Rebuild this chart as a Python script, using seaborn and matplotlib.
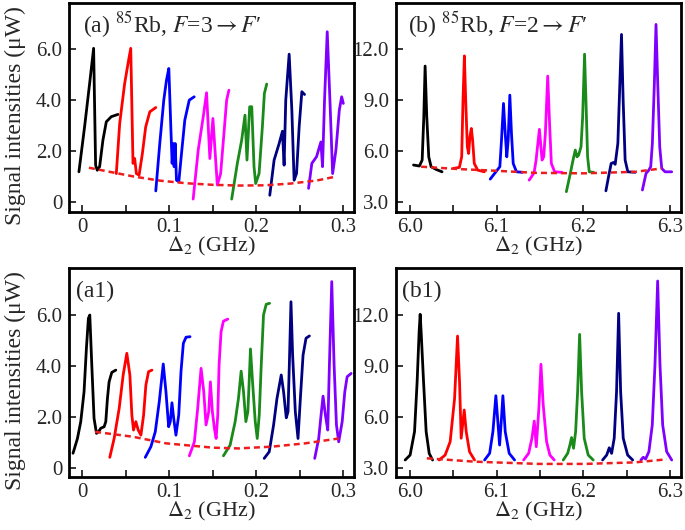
import pandas as pd
import seaborn as sns
import matplotlib.pyplot as plt
from matplotlib.ticker import MultipleLocator, FixedLocator, FixedFormatter

# ---- panel (a): 85Rb F=3 -> F' ----
a_blk_x = [-0.0038, 0.0027, 0.0085, 0.0131, 0.0154, 0.0173, 0.0200, 0.0238, 0.0277, 0.0334, 0.0411]
a_blk_y = [1.19, 2.95, 4.65, 6.03, 1.45, 1.25, 1.39, 2.43, 3.15, 3.35, 3.44]
a_red_x = [0.0392, 0.0431, 0.0488, 0.0527, 0.0558, 0.0584, 0.0603, 0.0623, 0.0654, 0.0692, 0.0730, 0.0777, 0.0846]
a_red_y = [1.12, 3.09, 4.65, 5.44, 6.03, 1.52, 1.71, 1.12, 1.06, 1.91, 2.95, 3.54, 3.71]
a_blu_x = [0.0846, 0.0892, 0.0938, 0.0969, 0.0996, 0.1019, 0.1034, 0.1046, 0.1057, 0.1069, 0.1084, 0.1111, 0.1142, 0.1180, 0.1231, 0.1288]
a_blu_y = [0.44, 2.30, 4.00, 4.78, 5.24, 2.95, 1.52, 2.30, 1.39, 2.30, 0.86, 0.80, 1.91, 3.22, 4.00, 4.13]
a_mag_x = [0.1276, 0.1334, 0.1392, 0.1430, 0.1468, 0.1503, 0.1554, 0.1592, 0.1630, 0.1661, 0.1687]
a_mag_y = [0.12, 2.04, 3.35, 4.29, 1.71, 3.28, 0.67, 1.12, 2.69, 4.00, 4.39]
a_grn_x = [0.1719, 0.1784, 0.1834, 0.1872, 0.1895, 0.1926, 0.1950, 0.1976, 0.1995, 0.2034, 0.2072, 0.2095, 0.2122]
a_grn_y = [0.12, 1.52, 2.43, 3.41, 1.65, 3.74, 3.74, 1.39, 0.73, 1.12, 2.95, 4.26, 4.63]
a_nav_x = [0.2157, 0.2207, 0.2265, 0.2303, 0.2322, 0.2341, 0.2380, 0.2411, 0.2437, 0.2465, 0.2495, 0.2526, 0.2557]
a_nav_y = [0.27, 1.65, 2.30, 2.78, 1.45, 4.00, 5.80, 3.61, 0.86, 1.12, 2.95, 4.33, 4.22]
a_pur_x = [0.2603, 0.2641, 0.2695, 0.2745, 0.2764, 0.2787, 0.2818, 0.2849, 0.2880, 0.2918, 0.2957, 0.2984, 0.3003]
a_pur_y = [0.54, 1.52, 1.78, 2.36, 1.39, 4.00, 6.68, 4.00, 1.12, 2.04, 3.61, 4.13, 3.87]
a_env_x = [0.0077, 0.03, 0.06, 0.09, 0.12, 0.15, 0.18, 0.21, 0.24, 0.27, 0.29]
a_env_y = [1.35, 1.20, 1.00, 0.84, 0.74, 0.68, 0.65, 0.66, 0.73, 0.85, 0.99]

# ---- panel (b): 85Rb F=2 -> F' ----
b_blk_x = [6.0042, 6.0110, 6.0142, 6.0161, 6.0176, 6.0195, 6.0218, 6.0245, 6.0303, 6.0371]
b_blk_y = [5.18, 5.12, 5.47, 8.02, 11.0, 8.02, 5.66, 5.08, 4.92, 4.78]
b_red_x = [6.0502, 6.0571, 6.0598, 6.0613, 6.0629, 6.0644, 6.0663, 6.0678, 6.0693, 6.0709, 6.0724, 6.0743, 6.0782, 6.0859]
b_red_y = [4.98, 5.04, 5.66, 9.0, 11.6, 9.0, 6.25, 5.86, 6.84, 7.33, 6.65, 5.27, 4.88, 4.78]
b_blu_x = [6.0927, 6.0992, 6.1038, 6.1057, 6.1080, 6.1100, 6.1118, 6.1134, 6.1153, 6.1172, 6.1192, 6.1230, 6.1299]
b_blu_y = [4.35, 4.78, 5.08, 6.65, 8.80, 7.04, 5.66, 6.65, 9.29, 7.04, 5.27, 4.78, 4.75]
b_mag_x = [6.1376, 6.1433, 6.1456, 6.1494, 6.1525, 6.1544, 6.1563, 6.1590, 6.1613, 6.1632, 6.1670, 6.1755]
b_mag_y = [4.29, 4.72, 5.47, 7.28, 5.47, 5.66, 7.04, 10.41, 7.43, 5.27, 4.78, 4.75]
b_grn_x = [6.1805, 6.1851, 6.1882, 6.1908, 6.1928, 6.1946, 6.1974, 6.1993, 6.2015, 6.2031, 6.2050, 6.2069, 6.2119]
b_grn_y = [3.61, 4.69, 5.47, 6.06, 5.66, 5.76, 6.25, 8.02, 11.7, 9.0, 5.66, 4.78, 4.75]
b_nav_x = [6.2261, 6.2299, 6.2322, 6.2349, 6.2368, 6.2399, 6.2422, 6.2441, 6.2460, 6.2483, 6.2514, 6.2598]
b_nav_y = [3.66, 4.69, 5.27, 5.33, 5.22, 6.45, 9.98, 12.86, 9.0, 5.47, 4.78, 4.75]
b_pur_x = [6.2682, 6.2724, 6.2751, 6.2778, 6.2797, 6.2820, 6.2839, 6.2859, 6.2882, 6.2905, 6.2943, 6.3020]
b_pur_y = [3.71, 4.69, 4.84, 5.08, 6.45, 9.98, 13.45, 9.98, 6.25, 4.98, 4.78, 4.78]
b_env_x = [6.013, 6.057, 6.100, 6.145, 6.200, 6.260, 6.2905]
b_env_y = [5.08, 4.94, 4.84, 4.72, 4.69, 4.78, 4.98]

# ---- panel (a1) ----
a1_blk_x = [-0.0106, -0.0055, -0.0017, 0.0021, 0.0048, 0.0071, 0.0087, 0.0110, 0.0136, 0.0164, 0.0187, 0.0213, 0.0252, 0.0271, 0.0290, 0.0309, 0.0340, 0.0386]
a1_blk_y = [0.58, 1.16, 1.82, 2.99, 4.69, 5.87, 6.00, 4.04, 1.95, 1.36, 1.42, 1.56, 1.62, 1.82, 2.73, 3.38, 3.75, 3.84]
a1_red_x = [0.0317, 0.0367, 0.0425, 0.0471, 0.0513, 0.0548, 0.0571, 0.0590, 0.0617, 0.0644, 0.0675, 0.0706, 0.0732, 0.0763, 0.0802]
a1_red_y = [0.42, 1.16, 2.34, 3.65, 4.50, 3.65, 2.08, 1.49, 1.82, 1.49, 1.29, 2.08, 3.25, 3.78, 3.84]
a1_blu_x = [0.0725, 0.0790, 0.0840, 0.0886, 0.0932, 0.0963, 0.0994, 0.1013, 0.1032, 0.1052, 0.1078, 0.1110, 0.1136, 0.1163, 0.1194, 0.1240]
a1_blu_y = [0.42, 0.84, 1.42, 2.60, 4.08, 2.99, 1.62, 1.82, 2.56, 1.95, 1.29, 2.08, 3.78, 4.89, 5.13, 5.15]
a1_mag_x = [0.1232, 0.1290, 0.1328, 0.1367, 0.1398, 0.1424, 0.1455, 0.1474, 0.1497, 0.1520, 0.1540, 0.1559, 0.1574, 0.1597, 0.1624, 0.1674]
a1_mag_y = [0.48, 1.03, 2.34, 3.91, 2.99, 1.69, 2.21, 3.38, 2.21, 1.56, 1.16, 2.08, 4.04, 5.35, 5.76, 5.84]
a1_grn_x = [0.1624, 0.1701, 0.1759, 0.1797, 0.1828, 0.1855, 0.1882, 0.1905, 0.1920, 0.1935, 0.1959, 0.1990, 0.2013, 0.2036, 0.2059, 0.2085, 0.2116, 0.2155]
a1_grn_y = [0.48, 0.90, 1.82, 2.73, 3.80, 2.99, 1.82, 2.21, 3.38, 4.67, 3.38, 1.82, 1.16, 2.08, 4.04, 6.00, 6.42, 6.46]
a1_nav_x = [0.2093, 0.2151, 0.2201, 0.2240, 0.2289, 0.2316, 0.2347, 0.2367, 0.2382, 0.2401, 0.2420, 0.2451, 0.2482, 0.2509, 0.2540, 0.2574, 0.2613]
a1_nav_y = [0.38, 0.64, 1.69, 2.73, 3.65, 2.99, 1.97, 2.21, 4.04, 6.52, 4.43, 2.21, 1.16, 2.73, 4.43, 5.09, 5.18]
a1_pur_x = [0.2674, 0.2720, 0.2751, 0.2770, 0.2797, 0.2824, 0.2843, 0.2870, 0.2897, 0.2924, 0.2950, 0.2990, 0.3020, 0.3047, 0.3093]
a1_pur_y = [0.38, 1.16, 2.21, 2.82, 2.08, 1.49, 4.04, 7.31, 4.04, 1.69, 1.03, 1.82, 2.99, 3.58, 3.71]
a1_env_x = [0.0148, 0.0579, 0.0963, 0.1502, 0.1797, 0.2182, 0.2566, 0.2950]
a1_env_y = [1.42, 1.23, 0.97, 0.80, 0.77, 0.84, 0.97, 1.16]

# ---- panel (b1) ----
b1_blk_x = [5.9946, 6.0003, 6.0054, 6.0084, 6.0107, 6.0119, 6.0130, 6.0158, 6.0188, 6.0223, 6.0262]
b1_blk_y = [3.47, 3.76, 5.14, 8.08, 11.02, 12.04, 11.02, 8.08, 5.14, 3.86, 3.47]
b1_red_x = [6.0338, 6.0407, 6.0465, 6.0516, 6.0550, 6.0573, 6.0592, 6.0627, 6.0650, 6.0688, 6.0746]
b1_red_y = [3.47, 3.76, 4.55, 7.10, 10.76, 8.08, 4.75, 6.41, 5.14, 3.96, 3.47]
b1_blu_x = [6.0862, 6.0920, 6.0958, 6.0992, 6.1015, 6.1035, 6.1054, 6.1073, 6.1100, 6.1146, 6.1208]
b1_blu_y = [3.47, 3.86, 5.14, 7.25, 5.72, 4.35, 5.72, 7.25, 5.14, 3.86, 3.47]
b1_mag_x = [6.1312, 6.1370, 6.1408, 6.1435, 6.1458, 6.1488, 6.1512, 6.1538, 6.1577, 6.1615, 6.1665]
b1_mag_y = [3.47, 3.86, 4.75, 5.76, 4.25, 6.50, 9.10, 6.71, 4.55, 3.76, 3.47]
b1_grn_x = [6.1769, 6.1820, 6.1846, 6.1865, 6.1888, 6.1912, 6.1935, 6.1958, 6.1981, 6.2011, 6.2057, 6.2115]
b1_grn_y = [3.47, 3.86, 4.35, 4.79, 4.16, 5.14, 7.49, 10.86, 7.49, 4.75, 3.76, 3.47]
b1_nav_x = [6.2223, 6.2270, 6.2300, 6.2327, 6.2357, 6.2384, 6.2408, 6.2431, 6.2461, 6.2512, 6.2570]
b1_nav_y = [3.47, 3.76, 4.19, 3.86, 4.75, 7.49, 12.10, 7.49, 4.75, 3.76, 3.47]
b1_pur_x = [6.2665, 6.2692, 6.2719, 6.2757, 6.2796, 6.2827, 6.2858, 6.2885, 6.2916, 6.2962, 6.3020]
b1_pur_y = [3.47, 3.63, 3.53, 3.96, 5.53, 9.06, 14.0, 9.06, 5.53, 3.96, 3.47]
b1_env_x = [6.0196, 6.0754, 6.1485, 6.2019, 6.2596, 6.2962]
b1_env_y = [3.57, 3.37, 3.24, 3.24, 3.33, 3.51]

colors = ['black', '#ff0000', '#0000ff', '#ff00ff', '#1a8a1a', '#000080', '#8000ff']

sns.set_style('ticks')
plt.rcParams['font.family'] = ['Liberation Serif', 'DejaVu Serif']
plt.rcParams['mathtext.fontset'] = 'stix'

fig, axes = plt.subplots(2, 2, figsize=(6.85, 5.30), dpi=100)
plt.subplots_adjust(left=0.101, right=0.994, top=0.994, bottom=0.10, wspace=0.147, hspace=0.268)

panels = [
    (axes[0, 0], [(a_blk_x, a_blk_y), (a_red_x, a_red_y), (a_blu_x, a_blu_y), (a_mag_x, a_mag_y),
                  (a_grn_x, a_grn_y), (a_nav_x, a_nav_y), (a_pur_x, a_pur_y)], (a_env_x, a_env_y)),
    (axes[0, 1], [(b_blk_x, b_blk_y), (b_red_x, b_red_y), (b_blu_x, b_blu_y), (b_mag_x, b_mag_y),
                  (b_grn_x, b_grn_y), (b_nav_x, b_nav_y), (b_pur_x, b_pur_y)], (b_env_x, b_env_y)),
    (axes[1, 0], [(a1_blk_x, a1_blk_y), (a1_red_x, a1_red_y), (a1_blu_x, a1_blu_y), (a1_mag_x, a1_mag_y),
                  (a1_grn_x, a1_grn_y), (a1_nav_x, a1_nav_y), (a1_pur_x, a1_pur_y)], (a1_env_x, a1_env_y)),
    (axes[1, 1], [(b1_blk_x, b1_blk_y), (b1_red_x, b1_red_y), (b1_blu_x, b1_blu_y), (b1_mag_x, b1_mag_y),
                  (b1_grn_x, b1_grn_y), (b1_nav_x, b1_nav_y), (b1_pur_x, b1_pur_y)], (b1_env_x, b1_env_y)),
]

for ax, traces, env in panels:
    for (tx, ty), c in zip(traces, colors):
        sns.lineplot(x=tx, y=ty, ax=ax, color=c, lw=2.0, sort=False, estimator=None)
    sns.lineplot(x=env[0], y=env[1], ax=ax, color='#ee1c1c', lw=1.8, sort=False,
                 estimator=None, linestyle=(0, (2.4, 1.6)))
    for s in ax.spines.values():
        s.set_linewidth(2.0)
        s.set_color('black')
    ax.tick_params(direction='in', length=5, width=1.3, labelsize=15, top=False, right=False, pad=5)
    ax.tick_params(axis='x', which='both', direction='in', length=5, width=1.3, pad=4)

# left column
for ax, ylim in [(axes[0, 0], (-0.39, 7.8)), (axes[1, 0], (-0.35, 7.84))]:
    ax.set_xlim(-0.015, 0.3127)
    ax.set_ylim(*ylim)
    ax.xaxis.set_major_locator(FixedLocator([0, 0.1, 0.2, 0.3]))
    ax.xaxis.set_major_formatter(FixedFormatter(['0', '0.1', '0.2', '0.3']))
    ax.xaxis.set_minor_locator(MultipleLocator(0.05))
    ax.yaxis.set_major_locator(FixedLocator([0, 2, 4, 6]))
    ax.yaxis.set_major_formatter(FixedFormatter(['0', '2.0', '4.0', '6.0']))
    ax.set_ylabel('Signal intensities (μW)', fontsize=17)
    ax.yaxis.set_label_coords(-0.15, 0.46)

# right column
for ax, ylim in [(axes[0, 1], (2.41, 14.7)), (axes[1, 1], (2.47, 14.76))]:
    ax.set_xlim(5.984, 6.3126)
    ax.set_ylim(*ylim)
    ax.xaxis.set_major_locator(FixedLocator([6.0, 6.1, 6.2, 6.3]))
    ax.xaxis.set_major_formatter(FixedFormatter(['6.0', '6.1', '6.2', '6.3']))
    ax.xaxis.set_minor_locator(MultipleLocator(0.05))
    ax.yaxis.set_major_locator(FixedLocator([3, 6, 9, 12]))
    ax.yaxis.set_major_formatter(FixedFormatter(['3.0', '6.0', '9.0', '12.0']))
    ax.set_ylabel('')

for ax in axes.flat:
    ax.set_xlabel(r'$\Delta_2$ (GHz)', fontsize=16, labelpad=-1)

axes[0, 0].text(0.05, 0.86, r'(a) $^{85}$Rb, $F$=3${\rightarrow}$$F$′', transform=axes[0, 0].transAxes,
                fontsize=17, va='baseline')
axes[0, 1].text(0.042, 0.86, r'(b) $^{85}$Rb, $F$=2${\rightarrow}$$F$′', transform=axes[0, 1].transAxes,
                fontsize=17, va='baseline')
axes[1, 0].text(0.025, 0.86, '(a1)', transform=axes[1, 0].transAxes, fontsize=17, va='baseline')
axes[1, 1].text(0.021, 0.86, '(b1)', transform=axes[1, 1].transAxes, fontsize=17, va='baseline')

plt.savefig('out.png', dpi=100)
